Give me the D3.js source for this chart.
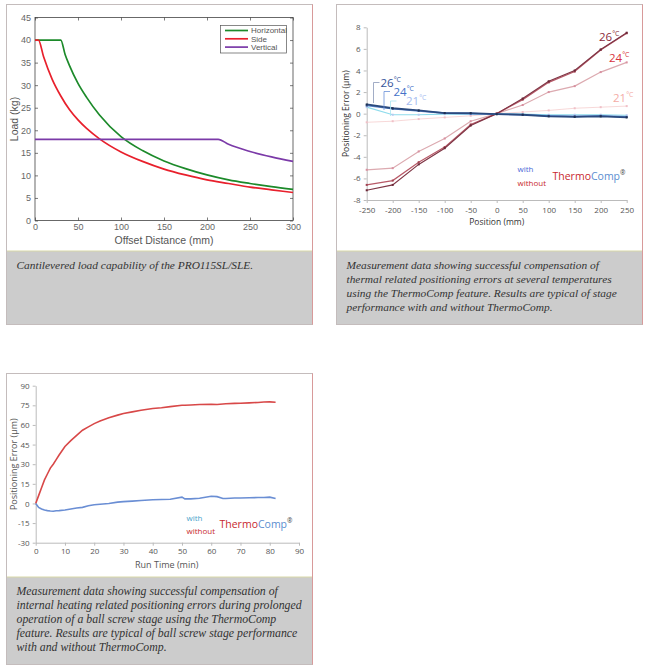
<!DOCTYPE html>
<html>
<head>
<meta charset="utf-8">
<script src="https://cdn.jsdelivr.net/npm/d3@7"></script>
<style>
  body { margin: 0; background: #fff; }
  svg { display: block; }
</style>
</head>
<body>
<div id="chart"></div>
<script>
// ---- chart 1: cantilevered load
const offsetH = [0, 30, 35, 40, 50, 60, 75, 100, 125, 150, 175, 200, 225, 250, 275, 300]
const loadH = [40, 40, 36.8, 34.4, 30.4, 27.3, 23.4, 18.6, 15.5, 13.2, 11.5, 10.1, 9.0, 8.2, 7.5, 6.9]
const offsetS = [0, 4, 10, 20, 30, 40, 50, 60, 75, 100, 125, 150, 175, 200, 225, 250, 275, 300]
const loadS = [40, 40, 36.3, 31.3, 27.6, 24.6, 22.3, 20.4, 18.1, 15.2, 13.1, 11.4, 10.1, 9.0, 8.2, 7.4, 6.8, 6.2]
const offsetV = [0, 213, 225, 250, 275, 300]
const loadV = [18, 18, 16.9, 15.3, 14.1, 13.1]
const loadTicksX = [0, 50, 100, 150, 200, 250, 300]
const loadTicksY = [0, 5, 10, 15, 20, 25, 30, 35, 40, 45]
const loadSeries = ["Horizontal", "Side", "Vertical"]

// ---- chart 2: positioning error vs position
const positions = [-250, -200, -150, -100, -50, 0, 50, 100, 150, 200, 250]
const err26WithoutA = [-7.1, -6.6, -4.7, -3.2, -1.1, 0.0, 1.4, 3.0, 4.0, 5.95, 7.5]
const err26WithoutB = [-6.6, -6.2, -4.5, -3.1, -1.0, 0.0, 1.3, 2.9, 3.9, 5.9, 7.45]
const err24Without = [-5.2, -5.05, -3.5, -2.3, -0.7, 0.0, 0.8, 2.0, 2.55, 3.85, 4.75]
const err21Without = [-0.8, -0.7, -0.5, -0.35, -0.2, 0.0, 0.15, 0.3, 0.5, 0.6, 0.7]
const err26With = [0.85, 0.5, 0.3, 0.05, 0.05, -0.05, -0.1, -0.25, -0.3, -0.25, -0.35]
const err24With = [0.75, 0.45, 0.25, 0.05, 0.0, -0.05, -0.1, -0.2, -0.25, -0.2, -0.3]
const err21With = [0.6, -0.1, -0.1, -0.05, -0.05, 0.0, -0.05, -0.1, -0.1, -0.1, -0.15]
const posTicksY = [-8, -6, -4, -2, 0, 2, 4, 6, 8]

// ---- chart 3: positioning error vs run time
const runTime = [0, 1, 2, 3, 4, 5, 6, 7, 8, 10, 12, 14, 16, 18, 20, 22, 25, 28, 30, 33, 36, 40, 43, 46, 50, 51, 53, 56, 60, 62, 64, 65, 68, 70, 73, 76, 78, 80, 82]
const errWithout = [0, 6, 12, 18, 22.5, 27, 30, 33.5, 37, 43.5, 48, 52, 56, 58.5, 61, 63, 65.5, 67.5, 68.8, 70, 71.2, 72.6, 73.2, 74, 75, 75.1, 75.3, 75.6, 75.8, 75.6, 76, 76.2, 76.5, 76.6, 76.9, 77.2, 77.5, 77.6, 77.4]
const errWith = [0, -3, -4.2, -5, -5.5, -5.8, -6, -5.6, -5.5, -5, -4.2, -3.5, -3, -1.8, -1, -0.6, 0, 1, 1.4, 1.8, 2.2, 2.8, 3, 3.2, 4.8, 3.5, 3.5, 4, 5.5, 5.2, 3.8, 3.8, 4.2, 4.2, 4.4, 4.5, 4.6, 4.8, 3.8]
const runTicksX = [0, 10, 20, 30, 40, 50, 60, 70, 80, 90]
const runTicksY = [-30, -15, 0, 15, 30, 45, 60, 75, 90]

const caption1 = ["Cantilevered load capability of the PRO115SL/SLE."]
const caption2 = ["Measurement data showing successful compensation of",
  "thermal related positioning errors at several temperatures",
  "using the ThermoComp feature. Results are typical of stage",
  "performance with and without ThermoComp."]
const caption3 = ["Measurement data showing successful compensation of",
  "internal heating related positioning errors during prolonged",
  "operation of a ball screw stage using the ThermoComp",
  "feature. Results are typical of ball screw stage performance",
  "with and without ThermoComp."]

const SANS = "'Open Sans', 'DejaVu Sans', sans-serif"
const ARIAL = "'Liberation Sans', Arial, sans-serif"
const SERIF = "'Liberation Serif', 'Times New Roman', serif"

const svg = d3.select("#chart").append("svg")
  .attr("width", 650).attr("height", 670)

// panel frames + captions
function panel(x, y, w, h, capY, lines, size) {
  const g = svg.append("g")
  g.append("rect").attr("x", x).attr("y", capY).attr("width", w).attr("height", y + h - capY)
    .attr("fill", "#cccccc")
  g.append("line").attr("x1", x).attr("x2", x + w).attr("y1", capY).attr("y2", capY)
    .attr("stroke", "#d8d8a8")
  g.append("rect").attr("x", x).attr("y", y).attr("width", w).attr("height", h)
    .attr("fill", "none").attr("stroke", "#c4bcbc")
  g.append("line").attr("x1", x + w).attr("x2", x + w).attr("y1", y).attr("y2", y + h)
    .attr("stroke", "#d89a9a")
  const t = g.append("text")
    .attr("font-family", SERIF).attr("font-style", "italic")
    .attr("font-size", size).attr("fill", "#333")
  lines.forEach((l, i) => {
    t.append("tspan").attr("x", x + 10).attr("y", capY + 18 + i * 14).text(l)
  })
}
panel(6.5, 4.5, 306, 320, 251, caption1, 11.4)
panel(336.5, 4.5, 306, 320, 251, caption2, 11.4)
panel(6.5, 373.5, 306, 291, 577, caption3, 11.8)

// ---------- chart 1 ----------
{
  const x = d3.scaleLinear().domain([0, 300]).range([35, 293])
  const y = d3.scaleLinear().domain([0, 45]).range([220.5, 17.5])
  const g = svg.append("g")
  g.append("rect").attr("x", x(0)).attr("y", y(45)).attr("width", x(300) - x(0))
    .attr("height", y(0) - y(45)).attr("fill", "#fff").attr("stroke", "#444").attr("stroke-width", 0.8)

  const ax = g.append("g").attr("transform", `translate(0,${y(0)})`)
    .call(d3.axisBottom(x).tickValues(loadTicksX).tickSize(-3).tickPadding(3))
  const axT = g.append("g").attr("transform", `translate(0,${y(45)})`)
    .call(d3.axisTop(x).tickValues(loadTicksX).tickSize(-3).tickFormat(""))
  const ay = g.append("g").attr("transform", `translate(${x(0)},0)`)
    .call(d3.axisLeft(y).tickValues(loadTicksY).tickSize(-3).tickPadding(4))
  const ayR = g.append("g").attr("transform", `translate(${x(300)},0)`)
    .call(d3.axisRight(y).tickValues(loadTicksY).tickSize(-3).tickFormat(""))
  ;[ax, axT, ay, ayR].forEach(a => {
    a.select(".domain").remove()
    a.selectAll("line").attr("stroke", "#444").attr("stroke-width", 0.7)
    a.selectAll("text").attr("font-family", ARIAL).attr("font-size", 9).attr("fill", "#666")
  })

  const data = [
    { name: loadSeries[0], color: "#1c8a2a", pts: d3.zip(offsetH, loadH) },
    { name: loadSeries[1], color: "#e8202c", pts: d3.zip(offsetS, loadS) },
    { name: loadSeries[2], color: "#7b3aa8", pts: d3.zip(offsetV, loadV) }
  ]
  const curve = d3.line().x(d => x(d[0])).y(d => y(d[1])).curve(d3.curveMonotoneX)
  g.selectAll(".ld").data(data).join("path")
    .attr("d", d => curve(d.pts)).attr("fill", "none")
    .attr("stroke", d => d.color).attr("stroke-width", 1.7)

  g.append("text").attr("x", (x(0) + x(300)) / 2).attr("y", 243.5).attr("text-anchor", "middle")
    .attr("font-family", ARIAL).attr("font-size", 10.5).attr("fill", "#555").text("Offset Distance (mm)")
  g.append("text").attr("transform", `translate(18,${(y(0) + y(45)) / 2}) rotate(-90)`)
    .attr("text-anchor", "middle").attr("font-family", ARIAL).attr("font-size", 10.5)
    .attr("fill", "#555").text("Load (kg)")

  // legend
  const lg = g.append("g")
  lg.append("rect").attr("x", 220.5).attr("y", 25.5).attr("width", 66).attr("height", 27.5)
    .attr("fill", "#fff").attr("stroke", "#555").attr("stroke-width", 0.7)
  data.forEach((d, i) => {
    const yy = 30.5 + i * 8.3
    lg.append("line").attr("x1", 225).attr("x2", 248).attr("y1", yy).attr("y2", yy)
      .attr("stroke", d.color).attr("stroke-width", 1.7)
    lg.append("text").attr("x", 251).attr("y", yy + 2.8).attr("font-family", ARIAL)
      .attr("font-size", 8).attr("fill", "#555").text(d.name)
  })
}

function degLabel(g, x, y, num, color, size) {
  const t = g.append("text").attr("x", x).attr("y", y).attr("font-family", SANS)
    .attr("font-size", size).attr("fill", color)
  t.append("tspan").text(num)
  t.append("tspan").attr("font-size", size * 0.6).attr("dy", -size * 0.4).text("°C")
}
function thermoLegend(g, x, yWith, yWithout, tx, ty, withColor) {
  g.append("text").attr("x", x).attr("y", yWith).attr("font-family", SANS).attr("font-size", 8)
    .attr("fill", withColor).text("with")
  g.append("text").attr("x", x).attr("y", yWithout).attr("font-family", SANS).attr("font-size", 8)
    .attr("fill", "#c8282e").text("without")
  const t = g.append("text").attr("x", tx).attr("y", ty).attr("font-family", SANS).attr("font-size", 10.5)
  t.append("tspan").attr("fill", "#c8282e").text("Thermo")
  t.append("tspan").attr("fill", "#5b8ed0").text("Comp")
  t.append("tspan").attr("fill", "#444").attr("font-size", 6.5).attr("dy", -5).text("®")
}
function styleAxis(a) {
  a.select(".domain").attr("stroke", "#bbb")
  a.selectAll("line").attr("stroke", "#bbb")
  a.selectAll("text").attr("font-family", SANS).attr("font-size", 8).attr("fill", "#555")
}

// ---------- chart 2 ----------
{
  const x = d3.scaleLinear().domain([-250, 250]).range([366.7, 626.7])
  const y = d3.scaleLinear().domain([-8, 8]).range([200, 27.3])
  const g = svg.append("g")
  const ax = g.append("g").attr("transform", `translate(0,${y(-8)})`)
    .call(d3.axisBottom(x).tickValues(positions).tickSize(3).tickPadding(4).tickSizeOuter(0)
      .tickFormat(d => String(d)))
  const ay = g.append("g").attr("transform", `translate(${x(-250)},0)`)
    .call(d3.axisLeft(y).tickValues(posTicksY).tickSize(3).tickPadding(3).tickSizeOuter(0)
      .tickFormat(d => String(d)))
  styleAxis(ax); styleAxis(ay)

  g.append("text").attr("x", 496.7).attr("y", 225).attr("text-anchor", "middle")
    .attr("font-family", SANS).attr("font-size", 8.5).attr("fill", "#333").text("Position (mm)")
  g.append("text").attr("transform", `translate(349,${y(0)}) rotate(-90)`).attr("text-anchor", "middle")
    .attr("font-family", SANS).attr("font-size", 8.5).attr("fill", "#333").text("Positioning Error (µm)")

  const series = [
    { v: err21Without, c: "#f6d4d4", w: 0.9, m: "#f0c0c8" },
    { v: err21With, c: "#8fdcec", w: 1.2, m: "#b8c8f0" },
    { v: err24Without, c: "#dcaab0", w: 1.2, m: "#d890a0" },
    { v: err26WithoutB, c: "#b85a68", w: 1.2, m: "#a04050" },
    { v: err26WithoutA, c: "#7e3444", w: 1.2, m: "#6a2838" },
    { v: err24With, c: "#5a86cc", w: 1.6, m: "#3a5a9a" },
    { v: err26With, c: "#2b4a7e", w: 1.8, m: "#1e3050" }
  ]
  const line = d3.line().x((d, i) => x(positions[i])).y(d => y(d))
  series.forEach(s => {
    g.append("path").attr("d", line(s.v)).attr("fill", "none").attr("stroke", s.c)
      .attr("stroke-width", s.w)
    g.selectAll(null).data(s.v).join("rect")
      .attr("x", (d, i) => x(positions[i]) - 1).attr("y", d => y(d) - 1)
      .attr("width", 2).attr("height", 2).attr("fill", s.m)
  })

  // left brackets
  const br = [
    { x0: 373.5, top: 82.5, bot: 103, c: "#8a98b8" },
    { x0: 384, top: 91.5, bot: 110, c: "#6a90d8" },
    { x0: 390.5, top: 101, bot: 116, c: "#a8e4f0" }
  ]
  br.forEach(b => {
    g.append("path").attr("d", `M${b.x0 + 6},${b.top}H${b.x0}V${b.bot}`)
      .attr("fill", "none").attr("stroke", b.c).attr("stroke-width", 0.8)
  })
  degLabel(g, 380.5, 87, "26", "#34529a", 11.5)
  degLabel(g, 393.5, 95.5, "24", "#4472c8", 11.5)
  degLabel(g, 406, 105, "21", "#a4bcf0", 11.5)
  degLabel(g, 599, 41, "26", "#8b2a3a", 11.5)
  degLabel(g, 609, 62, "24", "#d8343e", 11.5)
  degLabel(g, 613, 102, "21", "#f4aca6", 11.5)

  thermoLegend(g, 517.5, 172, 185.5, 552.5, 180, "#4a6ad8")
}

// ---------- chart 3 ----------
{
  const x = d3.scaleLinear().domain([0, 90]).range([35.7, 299])
  const y = d3.scaleLinear().domain([-30, 90]).range([542.7, 385.7])
  const g = svg.append("g")
  const ax = g.append("g").attr("transform", `translate(0,${y(-30)})`)
    .call(d3.axisBottom(x).tickValues(runTicksX).tickSize(3).tickPadding(3).tickSizeOuter(0))
  const ay = g.append("g").attr("transform", `translate(${x(0)},0)`)
    .call(d3.axisLeft(y).tickValues(runTicksY).tickSize(3).tickPadding(3).tickSizeOuter(0)
      .tickFormat(d => String(d)))
  styleAxis(ax); styleAxis(ay)

  g.append("text").attr("x", 166.7).attr("y", 567.5).attr("text-anchor", "middle")
    .attr("font-family", SANS).attr("font-size", 9).attr("fill", "#555").text("Run Time (min)")
  g.append("text").attr("transform", `translate(17,${y(30)}) rotate(-90)`).attr("text-anchor", "middle")
    .attr("font-family", SANS).attr("font-size", 9).attr("fill", "#555").text("Positioning Error (µm)")

  const line = d3.line().x((d, i) => x(runTime[i])).y(d => y(d))
  g.append("path").attr("d", line(errWithout)).attr("fill", "none")
    .attr("stroke", "#d84848").attr("stroke-width", 1.6)
  g.append("path").attr("d", line(errWith)).attr("fill", "none")
    .attr("stroke", "#6a8ed4").attr("stroke-width", 1.6)

  thermoLegend(g, 186.5, 520.5, 533.5, 219.5, 528, "#4aa4cc")
}
</script>
</body>
</html>
